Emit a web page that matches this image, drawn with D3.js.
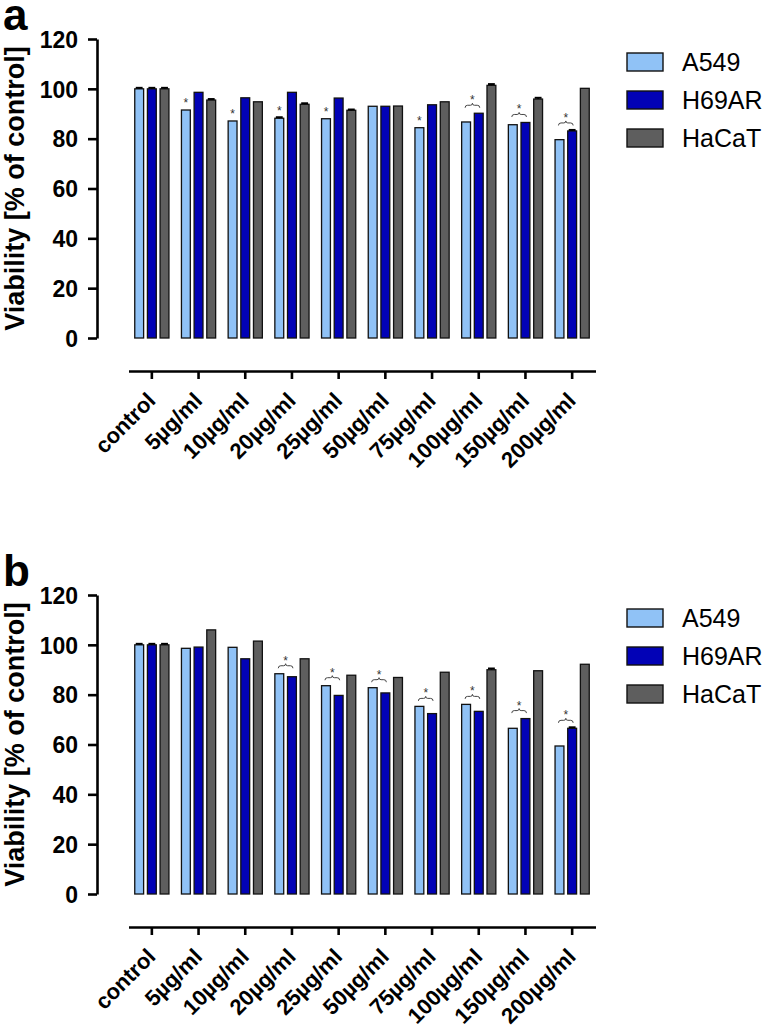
<!DOCTYPE html>
<html>
<head>
<meta charset="utf-8">
<script src="https://cdn.jsdelivr.net/npm/d3@7"></script>
<style>
  body { margin: 0; background: #fff; }
  svg { display: block; }
  text { font-family: "Liberation Sans", Arial, Helvetica, sans-serif; }
</style>
</head>
<body>
<svg id="chart" width="767" height="1032"></svg>
<script>
// ---------------- DATA ----------------
const categories = ["control", "5µg/ml", "10µg/ml", "20µg/ml", "25µg/ml", "50µg/ml", "75µg/ml", "100µg/ml", "150µg/ml", "200µg/ml"];
const seriesNames = ["A549", "H69AR", "HaCaT"];
const yTicks = [0, 20, 40, 60, 80, 100, 120];

// Panel a
const aA549  = [100, 91.5, 87.1, 88.2, 88.0, 93.0, 84.4, 86.7, 85.6, 79.6];
const aH69AR = [100, 98.6, 96.4, 98.6, 96.3, 93.0, 93.6, 90.2, 86.5, 83.1];
const aHaCaT = [100, 95.5, 94.8, 93.8, 91.4, 93.1, 94.8, 101.4, 95.9, 100.2];
const aErrA549  = [0.4, 0, 0, 0.4, 0, 0, 0, 0, 0, 0];
const aErrH69AR = [0.4, 0, 0, 0, 0, 0, 0, 0, 0, 0.4];
const aErrHaCaT = [0.4, 0.4, 0, 0.4, 0.3, 0, 0, 0.5, 0.5, 0];
const aStarSingle = ["5µg/ml", "10µg/ml", "20µg/ml", "25µg/ml", "75µg/ml"];
const aStarPair   = ["100µg/ml", "150µg/ml", "200µg/ml"];

// Panel b
const bA549  = [100, 98.6, 99.0, 88.4, 83.6, 82.8, 75.3, 76.1, 66.5, 59.4];
const bH69AR = [100, 99.1, 94.4, 87.2, 79.7, 80.7, 72.4, 73.3, 70.4, 66.5];
const bHaCaT = [100, 106.0, 101.5, 94.4, 87.8, 86.9, 89.0, 90.0, 89.6, 92.2];
const bErrA549  = [0.4, 0, 0, 0, 0, 0, 0, 0, 0, 0];
const bErrH69AR = [0.4, 0, 0, 0, 0, 0, 0, 0, 0, 0.4];
const bErrHaCaT = [0.4, 0, 0, 0, 0, 0, 0, 0.5, 0, 0];
const bStarSingle = [];
const bStarPair   = ["20µg/ml", "25µg/ml", "50µg/ml", "75µg/ml", "100µg/ml", "150µg/ml", "200µg/ml"];

const yTitle = "Viability [% of control]";
const panelLetters = ["a", "b"];

// ---------------- STYLE ----------------
const colors = { "A549": "#90c2f6", "H69AR": "#0202b6", "HaCaT": "#5e5e5e" };
const FONT = '"Liberation Sans", Arial, Helvetica, sans-serif';

const svg = d3.select("#chart");

const x = d3.scaleBand().domain(categories).range([128.5, 595.5]).paddingInner(0).paddingOuter(0);
const xs = d3.scaleBand().domain(seriesNames).range([4.35, 42.35]).paddingInner(0.3).paddingOuter(0.15);

function drawPanel(offsetY, letter, vals, errs, starSingle, starPair) {
  const g = svg.append("g").attr("transform", `translate(0,${offsetY})`);
  const y = d3.scaleLinear().domain([0, 120]).range([338, 39]);

  // panel letter
  g.append("text").attr("x", 3).attr("y", 30)
    .attr("font-size", 44).attr("font-weight", "bold").attr("fill", "#000").text(letter);

  // y axis
  const yAxis = g.append("g").attr("transform", "translate(97,0)")
    .call(d3.axisLeft(y).tickValues(yTicks).tickSize(9).tickSizeOuter(0).tickPadding(10));
  yAxis.select(".domain").attr("stroke", "#000").attr("stroke-width", 2.6);
  yAxis.selectAll(".tick line").attr("stroke", "#000").attr("stroke-width", 2.6);
  yAxis.selectAll(".tick text").attr("font-family", FONT).attr("font-size", 23)
    .attr("font-weight", "bold").attr("fill", "#000").attr("dy", "0.36em");

  // y title
  g.append("text")
    .attr("transform", `translate(24,${(y(0) + y(120)) / 2}) rotate(-90)`)
    .attr("text-anchor", "middle").attr("font-size", 27).attr("font-weight", "bold")
    .attr("fill", "#000").text(yTitle);

  // x axis (offset below bars)
  const xAxisY = 371;
  const xAxis = g.append("g").attr("transform", `translate(0,${xAxisY})`)
    .call(d3.axisBottom(x).tickSize(8).tickSizeOuter(0));
  xAxis.select(".domain").attr("stroke", "#000").attr("stroke-width", 2.6);
  xAxis.selectAll(".tick line").attr("stroke", "#000").attr("stroke-width", 2.6);
  xAxis.selectAll(".tick text")
    .attr("font-family", FONT).attr("font-size", 22).attr("font-weight", "bold").attr("fill", "#000")
    .attr("text-anchor", "end").attr("dy", 0).attr("y", 0)
    .attr("transform", "translate(5,31) rotate(-45)");

  // bars
  const rows = [];
  categories.forEach((c, i) => {
    seriesNames.forEach((s, k) => {
      rows.push({ cat: c, series: s, value: vals[k][i], err: errs[k][i] });
    });
  });
  g.append("g").selectAll("rect").data(rows).join("rect")
    .attr("x", d => x(d.cat) + xs(d.series))
    .attr("width", xs.bandwidth())
    .attr("y", d => y(d.value))
    .attr("height", d => y(0) - y(d.value))
    .attr("fill", d => colors[d.series])
    .attr("stroke", "#111").attr("stroke-width", 1.3);

  // error bars (tiny)
  const eg = g.append("g");
  rows.filter(d => d.err > 0).forEach(d => {
    const cx = x(d.cat) + xs(d.series) + xs.bandwidth() / 2;
    eg.append("line").attr("x1", cx).attr("x2", cx)
      .attr("y1", y(d.value)).attr("y2", y(d.value + d.err))
      .attr("stroke", "#000").attr("stroke-width", 1.5);
    eg.append("line").attr("x1", cx - xs.bandwidth() / 2 + 1).attr("x2", cx + xs.bandwidth() / 2 - 1)
      .attr("y1", y(d.value + d.err)).attr("y2", y(d.value + d.err))
      .attr("stroke", "#000").attr("stroke-width", 2);
  });

  // significance: single star over A549
  const sg = g.append("g");
  starSingle.forEach(c => {
    const i = categories.indexOf(c);
    const cx = x(c) + xs("A549") + xs.bandwidth() / 2;
    sg.append("text").attr("x", cx).attr("y", y(vals[0][i]) - 3)
      .attr("text-anchor", "middle").attr("font-size", 12).attr("fill", "#333").text("*");
  });
  // significance: brace over A549 & H69AR with star
  starPair.forEach(c => {
    const i = categories.indexOf(c);
    const x1 = x(c) + xs("A549") + xs.bandwidth() / 2 - 1;
    const x2 = x(c) + xs("H69AR") + xs.bandwidth() / 2 + 1;
    const xm = (x1 + x2) / 2;
    const top = Math.min(y(vals[0][i]), y(vals[1][i]));
    const by = top - 8;
    const p = d3.path();
    p.moveTo(x1, by + 2.5);
    p.quadraticCurveTo(x1, by, x1 + 2.5, by);
    p.lineTo(xm - 2, by);
    p.quadraticCurveTo(xm, by, xm, by - 2);
    p.quadraticCurveTo(xm, by, xm + 2, by);
    p.lineTo(x2 - 2.5, by);
    p.quadraticCurveTo(x2, by, x2, by + 2.5);
    sg.append("path").attr("d", p.toString()).attr("fill", "none")
      .attr("stroke", "#444").attr("stroke-width", 1);
    sg.append("text").attr("x", xm).attr("y", by - 1)
      .attr("text-anchor", "middle").attr("font-size", 12).attr("fill", "#333").text("*");
  });

  // legend
  const lg = g.append("g");
  seriesNames.forEach((s, k) => {
    const cy = 62 + k * 38;
    lg.append("rect").attr("x", 627).attr("y", cy - 9).attr("width", 36).attr("height", 18)
      .attr("fill", colors[s]).attr("stroke", "#111").attr("stroke-width", 1.4);
    lg.append("text").attr("x", 682).attr("y", cy).attr("dy", "0.36em")
      .attr("font-size", 25).attr("fill", "#000").text(s);
  });
}

drawPanel(0, panelLetters[0], [aA549, aH69AR, aHaCaT], [aErrA549, aErrH69AR, aErrHaCaT], aStarSingle, aStarPair);
drawPanel(556, panelLetters[1], [bA549, bH69AR, bHaCaT], [bErrA549, bErrH69AR, bErrHaCaT], bStarSingle, bStarPair);
</script>
</body>
</html>
